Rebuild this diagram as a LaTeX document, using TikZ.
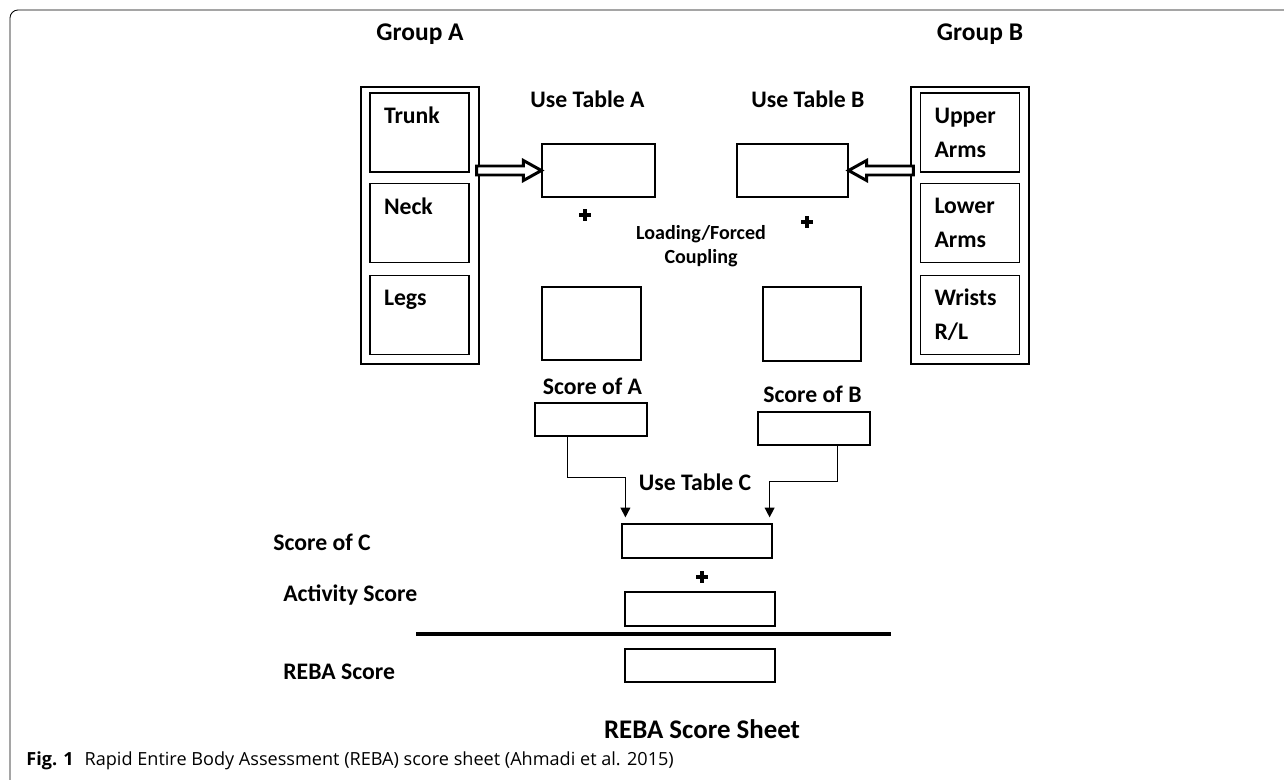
\documentclass[tikz,border=0pt]{standalone}
\usepackage{fontspec}
\setmainfont{Carlito}
\newfontfamily\capfont{Open Sans}
\usetikzlibrary{arrows.meta}
\usetikzlibrary{calc}
\usetikzlibrary{positioning}

\begin{document}
\begin{tikzpicture}[x=0.02cm, y=-0.02cm,
        lbl/.style={font=\bfseries\fontsize{13.5}{15}\selectfont, inner sep=0pt, anchor=base},
        box/.style={draw, line width=0.7pt, inner sep=0pt},
        part/.style={box, minimum width=1.98cm, minimum height=1.58cm, text width=1.42cm, inner xsep=0.28cm, align=left, font=\bfseries\fontsize{13.5}{19.3}\selectfont},
        hollow/.style={draw, line width=1.7pt, fill=white, line join=miter},
        conn/.style={line width=0.85pt, -{Triangle[width=5.5pt,length=5.5pt]}},
        plussign/.style={minimum size=0.25cm, inner sep=0pt,
            path picture={\fill ([xshift=-0.048cm]path picture bounding box.north) rectangle ([xshift=0.048cm]path picture bounding box.south);
                \fill ([yshift=-0.048cm]path picture bounding box.west) rectangle ([yshift=0.048cm]path picture bounding box.east);}}]
        \useasboundingbox (0,0) rectangle (1284,780);
        \clip (0,0) rectangle (1284,780);
        \draw[line width=0.5pt, rounded corners=0.16cm] (1300,10) -- (10,10) -- (10,792) -- (100,792);

        \node[lbl, font=\bfseries\fontsize{14.5}{16}\selectfont] (grpA) at (420,41) {Group A};
        \node[lbl, font=\bfseries\fontsize{14.5}{16}\selectfont] (grpB) at (980,41) {Group B};

        \node[box, minimum width=2.36cm, minimum height=5.54cm] (outA) at (420,225.5) {};
        \node[part] (trunk) at (419.5,132.5) {Trunk\\\mbox{}};
        \node[part, below=0.2cm of trunk] (neck) {Neck\\\mbox{}};
        \node[part, below=0.24cm of neck] (legs) {Legs\\\mbox{}};

        \node[box, minimum width=2.36cm, minimum height=5.54cm] (outB) at (970,225.5) {};
        \node[part] (upper) at (970,132.5) {Upper\\Arms};
        \node[part, below=0.2cm of upper] (lower) {Lower\\Arms};
        \node[part, below=0.24cm of lower] (wrist) {Wrists\\R/L};

        \node[lbl] (useA) at (587.5,108) {Use Table A};
        \node[box, minimum width=2.26cm, minimum height=1.06cm] (tabA) at (598.5,170.5) {};
        \node[plussign] (plusA) at (585,215) {};
        \node[box, minimum width=1.98cm, minimum height=1.46cm] (boxA) at (591.5,323.5) {};
        \node[lbl] (scA) at (592.5,394) {Score of A};
        \node[box, minimum width=2.24cm, minimum height=0.66cm] (scoreA) at (591,419.5) {};

        \node[font=\bfseries\fontsize{11.4}{14.2}\selectfont, align=center, inner sep=0pt, anchor=base] (load) at (701,264) {Loading/Forced\\Coupling};

        \node[lbl] (useB) at (808,108) {Use Table B};
        \node[box, minimum width=2.22cm, minimum height=1.06cm] (tabB) at (792.5,170.5) {};
        \node[plussign] (plusB) at (807,222) {};
        \node[box, minimum width=1.96cm, minimum height=1.48cm] (boxB) at (812,324) {};
        \node[lbl] (scB) at (812.5,402) {Score of B};
        \node[box, minimum width=2.24cm, minimum height=0.66cm] (scoreB) at (814,428.5) {};

        \node[lbl] (useC) at (695,490) {Use Table C};
        \node[box, minimum width=3cm, minimum height=0.68cm] (tabC) at (697,541) {};
        \node[plussign] (plusC) at (702,577) {};
        \node[box, minimum width=3cm, minimum height=0.68cm] (act) at (700,609) {};
        \node[box, minimum width=3cm, minimum height=0.66cm] (reba) at (700,665.5) {};
        \draw[line width=2.55pt] (416,634) -- (891,634);

        \node[lbl, anchor=base west] (scC) at (273,550) {Score of C};
        \node[lbl, anchor=base west] (actL) at (283,601) {Activity Score};
        \node[lbl, anchor=base west] (rebaL) at (283,679) {REBA Score};
        \node[lbl, font=\bfseries\fontsize{15.3}{18}\selectfont] (sheet) at (702,738) {REBA Score Sheet};
        \node[anchor=base west, inner sep=0pt, font=\capfont\fontsize{10.3}{12}\selectfont] (cap) at (26,765) {\textbf{Fig. 1}\hspace{0.6em}Rapid Entire Body Assessment (REBA) score sheet (Ahmadi et al. 2015)};

        \draw[hollow] ($(outA.east |- tabA.west)+(-3,-4.5)$) -- ($(tabA.west)+(-18,-4.5)$) -- ($(tabA.west)+(-18,-10)$) -- (tabA.west) -- ($(tabA.west)+(-18,10)$) -- ($(tabA.west)+(-18,4.5)$) -- ($(outA.east |- tabA.west)+(-3,4.5)$) -- cycle;
        \draw[hollow] ($(outB.west |- tabB.east)+(3,-4.5)$) -- ($(tabB.east)+(18,-4.5)$) -- ($(tabB.east)+(18,-10)$) -- (tabB.east) -- ($(tabB.east)+(18,10)$) -- ($(tabB.east)+(18,4.5)$) -- ($(outB.west |- tabB.east)+(3,4.5)$) -- cycle;

        \draw[conn] ($(scoreA.south west)+(33,0)$) |- ($(tabC.north west)+(4,-46)$) -- ($(tabC.north west)+(4,-6)$);
        \draw[conn] ($(scoreB.south east)+(-33,0)$) |- ($(tabC.north east)+(-3,-42)$) -- ($(tabC.north east)+(-3,-6)$);
    \end{tikzpicture}
\end{document}
